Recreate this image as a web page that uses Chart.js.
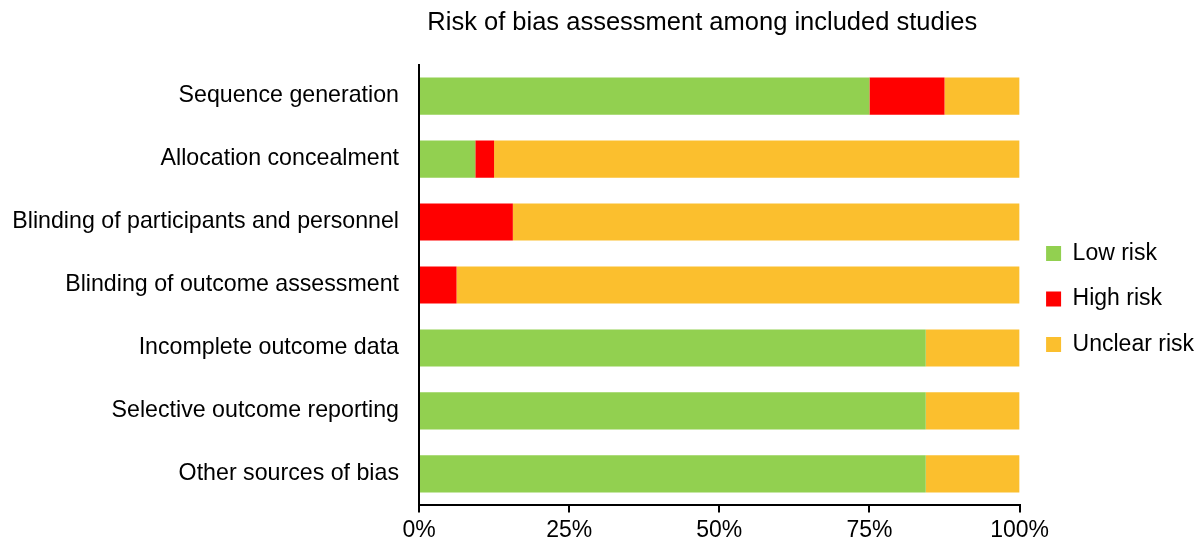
<!DOCTYPE html>
<html>
<head>
<meta charset="utf-8">
<script src="https://cdn.jsdelivr.net/npm/chart.js@4/dist/chart.umd.min.js"></script>
<style>
html,body{margin:0;padding:0;background:#fff;}
#wrap{width:1200px;height:551px;}
</style>
</head>
<body>
<div id="wrap"><canvas id="c" width="1200" height="551"></canvas></div>
<script>
const categories = [
  "Sequence generation",
  "Allocation concealment",
  "Blinding of participants and personnel",
  "Blinding of outcome assessment",
  "Incomplete outcome data",
  "Selective outcome reporting",
  "Other sources of bias"
];
const lowRisk     = [75, 9.375, 0, 0, 84.375, 84.375, 84.375];
const highRisk    = [12.5, 3.125, 15.625, 6.25, 0, 0, 0];
const unclearRisk = [12.5, 87.5, 84.375, 93.75, 15.625, 15.625, 15.625];
const xTicks = [0, 25, 50, 75, 100];
const seriesNames = ["Low risk", "High risk", "Unclear risk"];
const titleText = "Risk of bias assessment among included studies";

const FONT = "'Liberation Sans', Arial, sans-serif";
const ds = (label, data, color) => ({
  label, data, backgroundColor: color, borderWidth: 0,
  categoryPercentage: 1, barPercentage: 0.59
});

const blockShift = {
  id: 'blockShift',
  afterLayout(chart) {
    const t = chart.titleBlock;
    if (t) { t.left -= 17; t.right -= 17; }
    const l = chart.legend;
    if (l) { l.left += 4; l.right += 4; }
  }
};

new Chart(document.getElementById('c'), {
  type: 'bar',
  data: {
    labels: categories,
    datasets: [
      ds(seriesNames[0], lowRisk, '#92D050'),
      ds(seriesNames[1], highRisk, '#FF0000'),
      ds(seriesNames[2], unclearRisk, '#FBBF2E')
    ]
  },
  plugins: [blockShift],
  options: {
    indexAxis: 'y',
    responsive: false,
    animation: false,
    devicePixelRatio: 1,
    layout: { padding: { left: 0, right: 0, top: 0, bottom: 3 } },
    plugins: {
      title: {
        display: true, text: titleText, color: '#000',
        font: { family: FONT, size: 25.5, weight: 'normal' },
        padding: { top: 8, bottom: 26 },
        fullSize: false
      },
      legend: {
        position: 'right',
        title: { display: true, text: '', font: { size: 10 }, padding: { top: 38, bottom: 0 } },
        labels: {
          color: '#000',
          font: { family: FONT, size: 23 },
          boxWidth: 15, boxHeight: 15, padding: 22.5
        }
      },
      tooltip: { enabled: false }
    },
    scales: {
      x: {
        stacked: true, min: 0, max: 100,
        afterBuildTicks: (s) => { s.ticks = xTicks.map(v => ({ value: v })); },
        ticks: { color: '#000', font: { family: FONT, size: 23 }, padding: 4,
                 callback: (v) => v + '%', maxRotation: 0 },
        grid: { drawOnChartArea: false, drawTicks: true, tickLength: 7, color: '#000', lineWidth: 2 },
        border: { color: '#000', width: 2 }
      },
      y: {
        stacked: true,
        afterFit: (s) => { s.width = 419; },
        ticks: { color: '#000', font: { family: FONT, size: 23.2 }, padding: 20 },
        grid: { drawOnChartArea: false, drawTicks: false },
        border: { color: '#000', width: 2 }
      }
    }
  }
});
</script>
</body>
</html>
